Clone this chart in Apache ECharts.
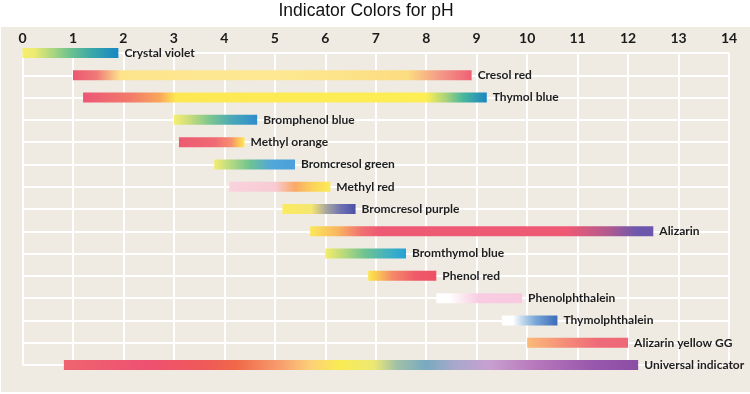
<!DOCTYPE html>
<html>
<head>
<meta charset="utf-8">
<script src="https://cdn.jsdelivr.net/npm/echarts@6/dist/echarts.min.js"></script>
<style>
html,body{margin:0;padding:0;background:#ffffff;}
#chart{width:750px;height:394px;}
</style>
</head>
<body>
<div id="chart"></div>
<script>
// ---- data ----
const indicators = [
  'Crystal violet', 'Cresol red', 'Thymol blue', 'Bromphenol blue', 'Methyl orange',
  'Bromcresol green', 'Methyl red', 'Bromcresol purple', 'Alizarin', 'Bromthymol blue',
  'Phenol red', 'Phenolphthalein', 'Thymolphthalein', 'Alizarin yellow GG', 'Universal indicator'
];
const startPH = [0.0, 1.0, 1.2, 3.0, 3.1, 3.8, 4.1, 5.15, 5.7, 6.0, 6.85, 8.2, 9.5, 10.0, 0.82];
const endPH   = [1.9, 8.9, 9.2, 4.65, 4.4, 5.4, 6.1, 6.6, 12.5, 7.6, 8.2, 9.9, 10.6, 12.0, 12.2];
const phTicks = [0, 1, 2, 3, 4, 5, 6, 7, 8, 9, 10, 11, 12, 13, 14];

// ---- style: gradient stops (offset within each bar, colour) ----
const gradientStops = [
  [[0,'#f6ef6a'],[0.12,'#eeea72'],[0.5,'#6cc28e'],[0.72,'#3aa7a8'],[1,'#1787c3']],
  [[0,'#ec5870'],[0.06,'#f07a78'],[0.12,'#fde48c'],[0.5,'#fde992'],[0.84,'#fcdc80'],[0.92,'#f49a88'],[1,'#ef6075']],
  [[0,'#ec5676'],[0.12,'#f27b6a'],[0.19,'#f9a65a'],[0.23,'#fde854'],[0.85,'#fdee55'],[0.9,'#a6d27c'],[0.94,'#4bb89a'],[1,'#1a86c2']],
  [[0,'#f5ee72'],[0.15,'#d4e07a'],[0.45,'#78c490'],[0.7,'#4aa8b8'],[1,'#2f8ccc']],
  [[0,'#ec5a72'],[0.55,'#ef6a74'],[0.8,'#f69070'],[0.9,'#fbc058'],[1,'#fde858']],
  [[0,'#f3ec6e'],[0.15,'#c6df7e'],[0.45,'#6cc292'],[0.7,'#52a8d8'],[1,'#4b9fdc']],
  [[0,'#f9d2de'],[0.45,'#f8cbd4'],[0.65,'#f9a868'],[0.85,'#fbd858'],[1,'#fdea58']],
  [[0,'#fbeb60'],[0.4,'#f5e670'],[0.6,'#a8a6a0'],[0.8,'#6f72b0'],[1,'#4b50a8']],
  [[0,'#fbe85a'],[0.08,'#f9b660'],[0.15,'#f07070'],[0.2,'#ee5a74'],[0.75,'#ee5a74'],[0.87,'#b05a90'],[0.95,'#6e58ac'],[1,'#6a56ac']],
  [[0,'#f5ec6a'],[0.2,'#c0dc7a'],[0.5,'#6cc292'],[0.8,'#3eb0c4'],[1,'#27a0d6']],
  [[0,'#fce850'],[0.1,'#fbd050'],[0.35,'#f58a68'],[0.7,'#ef5a68'],[1,'#ee5064']],
  [[0,'#ffffff'],[0.15,'#ffffff'],[0.3,'#fce8f0'],[0.5,'#f8cce2'],[1,'#f8cae0']],
  [[0,'#ffffff'],[0.2,'#ffffff'],[0.35,'#c8dcee'],[0.6,'#7aa8d8'],[1,'#3a6cb8']],
  [[0,'#fbba78'],[0.35,'#f59078'],[0.7,'#ef6a78'],[1,'#ee6878']],
  [[0,'#ef6470'],[0.15,'#ee5070'],[0.25,'#f05a58'],[0.3,'#f06848'],[0.38,'#f8a070'],[0.43,'#fcd078'],[0.48,'#f9ec52'],[0.54,'#ece874'],[0.58,'#a0c0a8'],[0.63,'#78aac0'],[0.68,'#a8a8cc'],[0.74,'#c8a0d0'],[0.82,'#b878bc'],[0.92,'#9a58ac'],[1,'#8a4ea4']]
];

const chart = echarts.init(document.getElementById('chart'), null, {renderer: 'canvas'});

const baseData = startPH.slice();
const rangeData = indicators.map((name, i) => ({
  value: +(endPH[i] - startPH[i]).toFixed(3),
  itemStyle: {
    color: new echarts.graphic.LinearGradient(0, 0, 1, 0,
      gradientStops[i].map(s => ({offset: s[0], color: s[1]})))
  }
}));

const option = {
  backgroundColor: '#ffffff',
  animation: false,
  graphic: [
    {type: 'rect', z: -10, silent: true, shape: {x: 1, y: 27, width: 749, height: 365}, style: {fill: '#efebe2'}},
    {type: 'text', z: 10, x: 366, y: 2, style: {text: 'Indicator Colors for pH', fill: '#111', font: '17.5px "Liberation Sans", Arial, sans-serif', textAlign: 'center', textVerticalAlign: 'top'}}
  ],
  grid: {left: 22.5, right: 21, top: 53, bottom: 29, containLabel: false},
  xAxis: {
    type: 'value', position: 'top', min: 0, max: 14, interval: 1,
    axisLine: {show: false}, axisTick: {show: false},
    axisLabel: {
      color: '#1a1a1a', fontSize: 14, fontWeight: 'bold', fontFamily: 'Lato, sans-serif', margin: 8,
      formatter: v => String(phTicks[v] !== undefined ? phTicks[v] : v)
    },
    splitLine: {show: true, lineStyle: {color: '#ffffff', width: 2}}
  },
  yAxis: {
    type: 'category', inverse: true, data: indicators, boundaryGap: false,
    axisLine: {show: false}, axisTick: {show: false}, axisLabel: {show: false},
    splitLine: {show: true, lineStyle: {color: '#ffffff', width: 2}}
  },
  series: [
    {
      type: 'bar', stack: 'ph', data: baseData, barWidth: 10,
      itemStyle: {color: 'rgba(0,0,0,0)'}, silent: true
    },
    {
      type: 'bar', stack: 'ph', data: rangeData, barWidth: 10,
      label: {
        show: true, position: 'right', distance: 6,
        color: '#1e1e1e', fontSize: 12, fontWeight: 'bold', fontFamily: 'Lato, sans-serif',
        formatter: p => indicators[p.dataIndex]
      }
    }
  ]
};
chart.setOption(option);
</script>
</body>
</html>
